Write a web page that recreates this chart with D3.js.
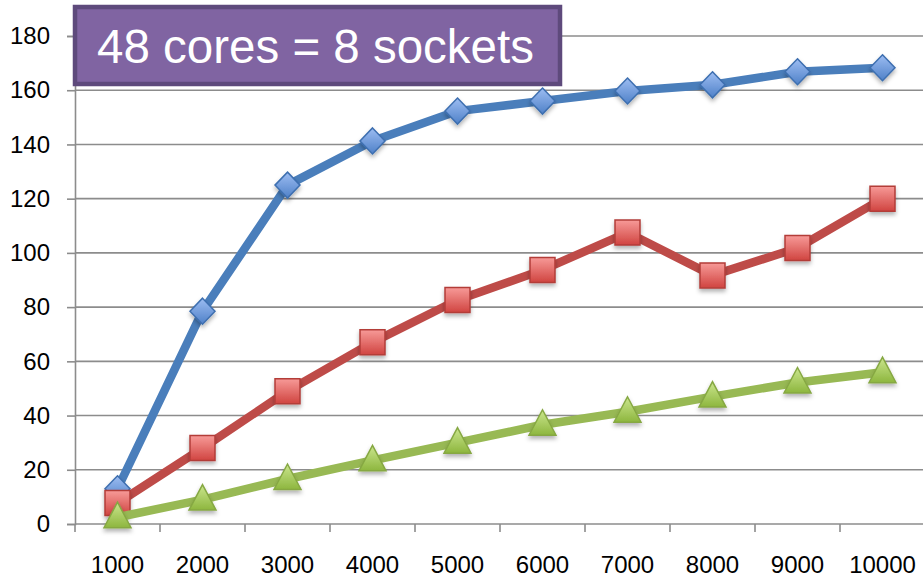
<!DOCTYPE html>
<html>
<head>
<meta charset="utf-8">
<script src="https://cdn.jsdelivr.net/npm/d3@7"></script>
<style>
  html, body { margin: 0; padding: 0; background: #fff; }
  svg { display: block; }
  svg text { font-family: Arial, "Liberation Sans", sans-serif; }
</style>
</head>
<body>
<svg id="chart" width="923" height="584"></svg>
<script>
// Problem sizes along the x axis
const categories = ["1000", "2000", "3000", "4000", "5000", "6000", "7000", "8000", "9000", "10000"];
// Throughput per series
const seriesTop = [13, 78.5, 125, 141.3, 152.3, 156, 159.7, 162, 166.8, 168.3];
const seriesMid = [7.7, 28, 49, 67, 82.6, 93.7, 107.5, 91.7, 101.8, 120];
const seriesLow = [2.5, 9, 16.6, 23.5, 30, 36.6, 41.4, 47, 52.2, 56];
const yTicks = [0, 20, 40, 60, 80, 100, 120, 140, 160, 180];
const titleText = "48 cores = 8 sockets";

const FONT = "Arial, 'Liberation Sans', sans-serif";
const svg = d3.select("#chart");
const plotLeft = 75, plotRight = 925, plotTop = 36, plotBottom = 524;

const x = d3.scaleBand().domain(categories).range([plotLeft, plotRight]);
const y = d3.scaleLinear().domain([0, 180]).range([plotBottom, plotTop]);

const defs = svg.append("defs");
function grad(id, c1, c2) {
  const g = defs.append("linearGradient").attr("id", id)
    .attr("x1", 0).attr("y1", 0).attr("x2", 0).attr("y2", 1);
  g.append("stop").attr("offset", "0%").attr("stop-color", c1);
  g.append("stop").attr("offset", "100%").attr("stop-color", c2);
}
grad("gBlue", "#9DBDF2", "#4F81C8");
grad("gRed", "#F79A98", "#D04440");
grad("gGreen", "#CBE68E", "#8DB63E");
const sh = defs.append("filter").attr("id", "shadow")
  .attr("x", "-50%").attr("y", "-50%").attr("width", "200%").attr("height", "200%");
sh.append("feDropShadow").attr("dx", 0).attr("dy", 3).attr("stdDeviation", 2)
  .attr("flood-color", "#000").attr("flood-opacity", 0.3);

// Horizontal gridlines
svg.append("g").selectAll("line").data(yTicks.slice(1)).join("line")
  .attr("x1", plotLeft).attr("x2", 923)
  .attr("y1", d => y(d)).attr("y2", d => y(d))
  .attr("stroke", "#8c8c8c").attr("stroke-width", 1.6);

// Y axis
const yAxis = svg.append("g").attr("transform", `translate(${plotLeft},0)`)
  .call(d3.axisLeft(y).tickValues(yTicks).tickSize(8).tickPadding(17));
yAxis.attr("font-family", FONT).attr("font-size", 24);
yAxis.select(".domain").attr("stroke", "#8c8c8c").attr("stroke-width", 1.6);
yAxis.selectAll(".tick line").attr("stroke", "#8c8c8c").attr("stroke-width", 1.6);
yAxis.selectAll(".tick text").attr("fill", "#000");

// X axis with ticks at category boundaries
const xAxisG = svg.append("g").attr("transform", `translate(0,${plotBottom})`)
  .attr("font-family", FONT).attr("font-size", 24);
xAxisG.append("line").attr("x1", plotLeft).attr("x2", 923)
  .attr("stroke", "#8c8c8c").attr("stroke-width", 1.6);
xAxisG.selectAll("line.tk").data(categories).join("line").attr("class", "tk")
  .attr("x1", d => x(d)).attr("x2", d => x(d)).attr("y1", 0).attr("y2", 8)
  .attr("stroke", "#8c8c8c").attr("stroke-width", 1.6);
xAxisG.selectAll("text").data(categories).join("text")
  .attr("x", d => x(d) + x.bandwidth() / 2).attr("y", 49)
  .attr("text-anchor", "middle").attr("fill", "#000")
  .text(d => d);

const line = d3.line().x((d, i) => x(categories[i]) + x.bandwidth() / 2).y(d => y(d));

function drawSeries(data, color, fill, stroke, shape) {
  const g = svg.append("g");
  g.append("path").datum(data).attr("d", line)
    .attr("fill", "none").attr("stroke", color).attr("stroke-width", 8.5)
    .attr("stroke-linejoin", "round");
  const m = g.selectAll("g.m").data(data).join("g").attr("class", "m")
    .attr("transform", (d, i) => `translate(${x(categories[i]) + x.bandwidth() / 2},${y(d)})`)
    .attr("filter", "url(#shadow)");
  let p;
  if (shape === "diamond") p = "M0,-13L12.5,0L0,13L-12.5,0Z";
  else if (shape === "square") p = "M-12.5,-12.5H12.5V12.5H-12.5Z";
  else p = "M0,-15L13.5,10.5H-13.5Z";
  m.append("path").attr("d", p).attr("fill", `url(#${fill})`)
    .attr("stroke", stroke).attr("stroke-width", 1.5);
}

drawSeries(seriesTop, "#4A7EBB", "gBlue", "#3E6FB0", "diamond");
drawSeries(seriesMid, "#BE4B48", "gRed", "#B33C38", "square");
drawSeries(seriesLow, "#98B954", "gGreen", "#86A843", "triangle");

// Title box
const tb = svg.append("g");
tb.append("rect").attr("x", 75).attr("y", 7).attr("width", 485).attr("height", 77)
  .attr("fill", "#8064A2").attr("stroke", "#5E4A7C").attr("stroke-width", 4.5);
tb.append("text").attr("x", 97).attr("y", 63).attr("font-size", 47.5)
  .attr("font-family", FONT).attr("fill", "#fff").text(titleText);
</script>
</body>
</html>
